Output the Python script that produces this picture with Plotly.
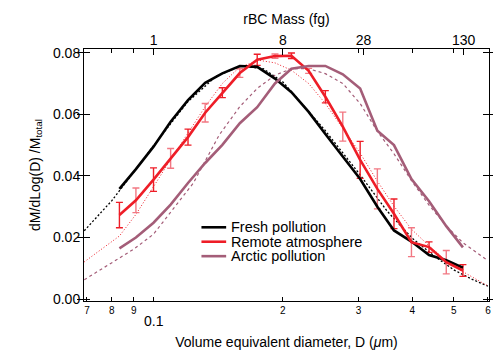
import plotly.graph_objects as go
import math

# ---- data ----
diam = [0.0833, 0.0910, 0.1000, 0.1096, 0.1203, 0.1319, 0.1446, 0.1588, 0.1743, 0.1917, 0.2094,
        0.2296, 0.2511, 0.2757, 0.3026, 0.3318, 0.3627, 0.3983, 0.4377, 0.4800, 0.5248]
fresh = [0.0358, 0.0422, 0.0495, 0.0576, 0.0646, 0.0702, 0.0733, 0.0757, 0.0754, 0.0716, 0.0672,
         0.0608, 0.0536, 0.0463, 0.0390, 0.0300, 0.0223, 0.0187, 0.0143, 0.0126, 0.0102]
remote = [0.0273, 0.0321, 0.0388, 0.0457, 0.0526, 0.0605, 0.0670, 0.0734, 0.0777, 0.0789, 0.0790,
          0.0741, 0.0657, 0.0560, 0.0452, 0.0358, 0.0277, 0.0185, 0.0169, 0.0120, 0.0093]
remote_err = [0.0041, 0.0040, 0.0038, 0.0032, 0.0026, 0.0030, 0.0016, 0.0014, 0.0018, 0.0007, 0.0009,
              0.0008, 0.0020, 0.0047, 0.0060, 0.0065, 0.0048, 0.0047, 0.0017, 0.0038, 0.0019]
arctic = [0.0165, 0.0200, 0.0248, 0.0307, 0.0377, 0.0442, 0.0501, 0.0571, 0.0623, 0.0700, 0.0748,
          0.0757, 0.0757, 0.0730, 0.0684, 0.0547, 0.0500, 0.0390, 0.0318, 0.0237, 0.0168]

fresh_fit_d = [0.069, 0.08, 0.09, 0.1, 0.12, 0.14, 0.16, 0.18, 0.2, 0.25, 0.3, 0.35, 0.4, 0.45, 0.5, 0.55, 0.6]
fresh_fit = [0.0222, 0.0320, 0.0413, 0.0498, 0.0640, 0.0724, 0.0757, 0.0748, 0.0705, 0.0550, 0.0410,
             0.0285, 0.0198, 0.0140, 0.0095, 0.0065, 0.0042]

remote_fit_d = [0.069, 0.0833, 0.0910, 0.1000, 0.1096, 0.1203, 0.1319, 0.1446, 0.1588, 0.1766, 0.1917,
                0.2094, 0.2296, 0.2511, 0.2757, 0.3026, 0.3318, 0.3627, 0.3983, 0.4377, 0.4800, 0.5248, 0.6]
remote_fit = [0.0121, 0.0205, 0.0275, 0.0367, 0.0453, 0.0539, 0.0625, 0.0700, 0.0754, 0.0775, 0.0767,
              0.0743, 0.0700, 0.0635, 0.0555, 0.0474, 0.0383, 0.0302, 0.0227, 0.0173, 0.0125, 0.0089, 0.0043]

arctic_fit_d = [0.069, 0.0822, 0.0899, 0.1, 0.1093, 0.1238, 0.1422, 0.1588, 0.1743, 0.1917, 0.2094, 0.2296,
                0.2511, 0.2757, 0.3026, 0.3318, 0.3627, 0.3983, 0.4377, 0.48, 0.5248, 0.6]
arctic_fit = [0.0063, 0.0128, 0.0162, 0.0211, 0.0281, 0.0377, 0.0533, 0.0625, 0.0684, 0.0727, 0.0748, 0.0748,
              0.0732, 0.0700, 0.0635, 0.0545, 0.0472, 0.0385, 0.0305, 0.0238, 0.0183, 0.0125]

series_names = ["Fresh pollution", "Remote atmosphere", "Arctic pollution"]

bottom_ticks = [0.07, 0.08, 0.09, 0.1, 0.2, 0.3, 0.4, 0.5, 0.6]
bottom_labels = ["7", "8", "9", " ", "2", "3", "4", "5", "6"]
top_tick_pos = [0.1, 0.2, 0.308, 0.527]
top_labels = ["1", "8", "28", "130"]
top_minor = [0.08, 0.09, 0.3, 0.4, 0.5]
y_ticks = [0.0, 0.02, 0.04, 0.06, 0.08]

BLACK = "#000000"
RED = "#EE1D27"
PINK = "#F27883"
MAUVE = "#A45D78"
series_colors = [BLACK, RED, MAUVE]
FONT = "Liberation Sans, Arial, sans-serif"

fig = go.Figure()

# fits
fig.add_trace(go.Scatter(x=fresh_fit_d, y=fresh_fit, mode="lines", showlegend=False,
                         line=dict(color=BLACK, width=1.3, dash="2px,2px")))
fig.add_trace(go.Scatter(x=remote_fit_d, y=remote_fit, mode="lines", showlegend=False,
                         line=dict(color=RED, width=1, dash="1px,2px")))
fig.add_trace(go.Scatter(x=arctic_fit_d, y=arctic_fit, mode="lines", showlegend=False,
                         line=dict(color=MAUVE, width=1.2, dash="3px,3px")))

# error bars (alternating colours)
for start, col in [(0, RED), (1, PINK)]:
    fig.add_trace(go.Scatter(x=diam[start::2], y=remote[start::2], mode="markers", showlegend=False,
                             marker=dict(size=1, color="rgba(0,0,0,0)"),
                             error_y=dict(type="data", array=remote_err[start::2], color=col,
                                          thickness=1.4, width=3.5)))

# measured lines
for name, ys, col in zip(series_names, [fresh, remote, arctic], series_colors):
    fig.add_trace(go.Scatter(x=diam, y=ys, mode="lines", name=name, showlegend=False,
                             line=dict(color=col, width=2.6)))

xr = [math.log10(0.0689), math.log10(0.6035)]

fig.update_layout(
    width=493, height=350,
    margin=dict(l=84, r=2, t=49, b=48),
    paper_bgcolor="white", plot_bgcolor="white",
    font=dict(family=FONT, size=14, color="black"),
    showlegend=False,
    xaxis=dict(type="log", range=xr, showgrid=False, zeroline=False,
               showline=True, linecolor="black", linewidth=1, mirror=True,
               ticks="inside", ticklen=4, tickcolor="black",
               tickvals=bottom_ticks, ticktext=bottom_labels,
               tickfont=dict(size=10), ticklabeloverflow="allow",
               title=dict(text="Volume equivalent diameter, D (<i>μ</i>m)", standoff=22,
                          font=dict(size=14))),
    xaxis2=dict(type="log", range=xr, overlaying="x", side="top", showgrid=False,
                zeroline=False, showline=False,
                ticks="inside", ticklen=6, tickcolor="black",
                tickvals=top_tick_pos, ticktext=top_labels, tickfont=dict(size=14),
                minor=dict(tickvals=top_minor, ticks="inside", ticklen=4, tickcolor="black"),
                title=dict(text="rBC Mass (fg)", standoff=4, font=dict(size=14))),
    yaxis=dict(range=[-0.0006, 0.0812], showgrid=False, zeroline=False,
               showline=True, linecolor="black", linewidth=1, mirror="allticks",
               ticks="inside", ticklen=6, tickcolor="black",
               tickvals=y_ticks, tickformat=".2f", tickfont=dict(size=14),
               title=dict(text="dM/dLog(D) /M<sub>total</sub>", standoff=9, font=dict(size=14))),
)

# dummy invisible trace to activate top axis
fig.add_trace(go.Scatter(x=[diam[0]], y=[remote[0]], xaxis="x2", mode="markers",
                         marker=dict(size=1, color="rgba(0,0,0,0)"), showlegend=False,
                         hoverinfo="skip"))

fig.add_annotation(x=math.log10(0.1), y=0, xref="x", yref="paper", text="0.1",
                   showarrow=False, yanchor="top", yshift=-10, font=dict(size=14))

# compact legend (paper coordinates)
leg_x0, leg_x1, leg_tx = 0.290, 0.351, 0.357
leg_y0, leg_dy = 0.2925, 0.0573
for i, (name, col) in enumerate(zip(series_names, series_colors)):
    yy = leg_y0 - i * leg_dy
    fig.add_shape(type="line", xref="paper", yref="paper", x0=leg_x0, x1=leg_x1, y0=yy, y1=yy,
                  line=dict(color=col, width=2.6))
    fig.add_annotation(x=leg_tx, y=yy, xref="paper", yref="paper", text=name, showarrow=False,
                       xanchor="left", yanchor="middle", font=dict(size=14.5))

fig.write_html("out.html")
